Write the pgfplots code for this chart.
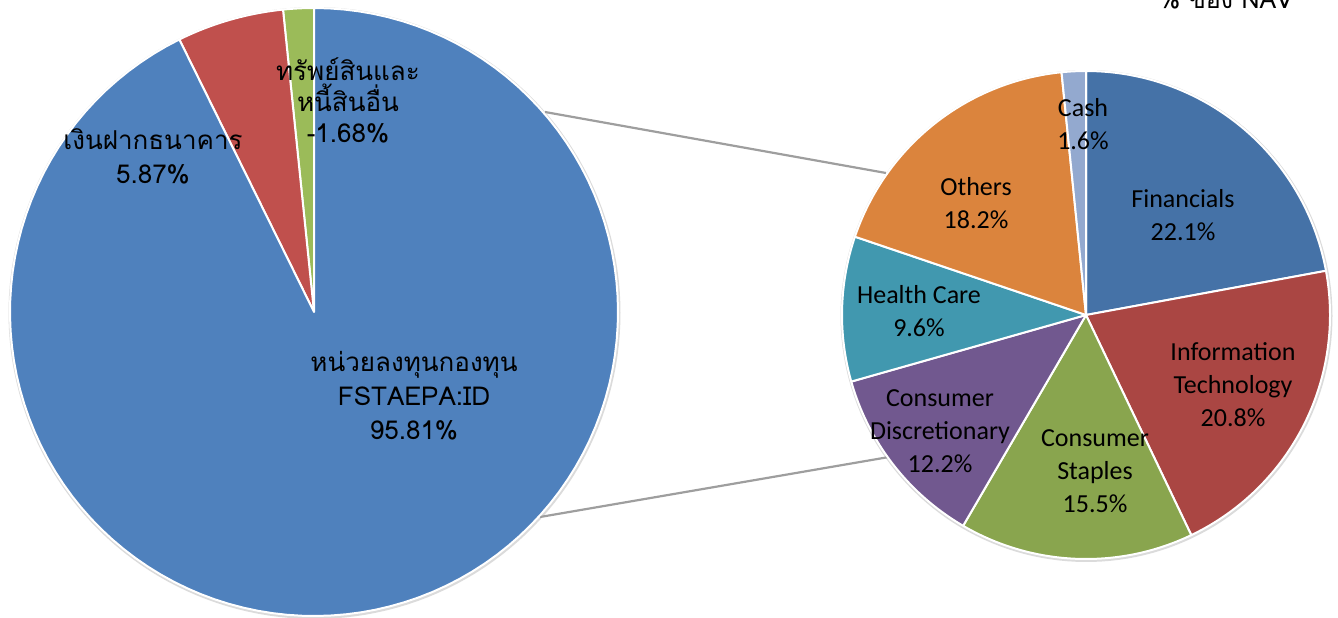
\documentclass[border=0pt]{standalone}
\usepackage{fontspec}
\usepackage{pgfplots}
\pgfplotsset{compat=1.18}
\setmainfont{Carlito}
\newfontfamily\thai[Script=Thai]{Loma}
\definecolor{lblue}{HTML}{4F81BD}
\definecolor{lred}{HTML}{C0504D}
\definecolor{lgreen}{HTML}{9BBB59}
\definecolor{rfin}{HTML}{4572A7}
\definecolor{rit}{HTML}{AA4643}
\definecolor{rcs}{HTML}{89A54E}
\definecolor{rcd}{HTML}{71588F}
\definecolor{rhc}{HTML}{4198AF}
\definecolor{roth}{HTML}{DB843D}
\definecolor{rcash}{HTML}{93A9CF}
% ---- data: left pie (% of NAV) ----
\def\vFund{95.81}
\def\vDep{5.87}
\def\vOther{1.68}% shown as -1.68
% ---- data: right pie (sector breakdown of FSTAEPA:ID) ----
\def\vFin{22.1}
\def\vIT{20.8}
\def\vCS{15.5}
\def\vCD{12.2}
\def\vHC{9.6}
\def\vOth{18.2}
\def\vCash{1.6}
% angles
\pgfmathsetmacro\Ltot{\vFund+\vDep+\vOther}
\pgfmathsetmacro\La{90}
\pgfmathsetmacro\Lb{\La+360*\vOther/\Ltot}
\pgfmathsetmacro\Lc{\Lb+360*\vDep/\Ltot}
\pgfmathsetmacro\Ld{450}
\pgfmathsetmacro\Ra{90}
\pgfmathsetmacro\Rb{\Ra-3.6*\vFin}
\pgfmathsetmacro\Rc{\Rb-3.6*\vIT}
\pgfmathsetmacro\Rd{\Rc-3.6*\vCS}
\pgfmathsetmacro\Re{\Rd-3.6*\vCD}
\pgfmathsetmacro\Rf{\Re-3.6*\vHC}
\pgfmathsetmacro\Rg{\Rf-3.6*\vOth}
\pgfmathsetmacro\Rh{\Rg-3.6*\vCash}
\newcommand\slice[6]{% cx cy r a b color
  \addplot[fill=#6, draw=white, line width=1pt, line join=round, domain=#4:#5, samples=120, variable=\t]
    ({#1+#3*cos(\t)},{#2+#3*sin(\t)}) -- (axis cs:#1,#2) -- cycle;}
\begin{document}
\begin{tikzpicture}
\begin{axis}[name=ax, width=669pt, height=308.5pt, scale only axis, hide axis,
  xmin=0, xmax=1338, ymin=0, ymax=617, clip=false]
% shadows
\addplot[draw=black!14, line width=2pt, domain=0:360, samples=180, variable=\t] ({314.5+304*cos(\t)},{304+304*sin(\t)});
\addplot[draw=black!14, line width=2pt, domain=0:360, samples=180, variable=\t] ({1086.5+244*cos(\t)},{301+244*sin(\t)});
% connector lines
\addplot[draw=black!38, line width=1.1pt] coordinates {(545,505) (886,444)};
\addplot[draw=black!38, line width=1.1pt] coordinates {(540,100) (889,160)};
% left pie
\slice{314}{305}{304}{\La}{\Lb}{lgreen}
\slice{314}{305}{304}{\Lb}{\Lc}{lred}
\slice{314}{305}{304}{\Lc}{\Ld}{lblue}
% right pie
\slice{1086}{302}{244}{\Rb}{\Ra}{rfin}
\slice{1086}{302}{244}{\Rc}{\Rb}{rit}
\slice{1086}{302}{244}{\Rd}{\Rc}{rcs}
\slice{1086}{302}{244}{\Re}{\Rd}{rcd}
\slice{1086}{302}{244}{\Rf}{\Re}{rhc}
\slice{1086}{302}{244}{\Rg}{\Rf}{roth}
\slice{1086}{302}{244}{\Rh}{\Rg}{rcash}
% left labels
\tikzset{ll/.style={align=center, font=\thai\fontsize{13}{17}\selectfont}}
\node[ll] at (axis cs:414,221) {หน่วยลงทุนกองทุน\\FSTAEPA:ID\\95.81\%};
\node[ll] at (axis cs:153,461) {เงินฝากธนาคาร\\5.87\%};
\node[ll, font=\thai\fontsize{13}{15.5}\selectfont] at (axis cs:348,517) {ทรัพย์สินและ\\หนี้สินอื่น\\-1.68\%};
% right labels
\tikzset{rl/.style={align=center, font=\fontsize{13}{16.5}\selectfont}}
\node[rl] at (axis cs:1083,493) {Cash\\1.6\%};
\node[rl] at (axis cs:1183,402) {Financials\\22.1\%};
\node[rl] at (axis cs:1233,232) {Information\\Technology\\20.8\%};
\node[rl] at (axis cs:1095,146) {Consumer\\Staples\\15.5\%};
\node[rl] at (axis cs:940,186) {Consumer\\Discretionary\\12.2\%};
\node[rl] at (axis cs:919,306) {Health Care\\9.6\%};
\node[rl] at (axis cs:976,414) {Others\\18.2\%};
% top-right title (cut off at the top edge, as in the original)
\node[anchor=base east, font=\thai\fontsize{12.5}{15}\selectfont] at (axis cs:1300,608) {\% ของ NAV};
\end{axis}
\pgfresetboundingbox
\path (ax.south west) rectangle (ax.north east);
\end{tikzpicture}
\end{document}
